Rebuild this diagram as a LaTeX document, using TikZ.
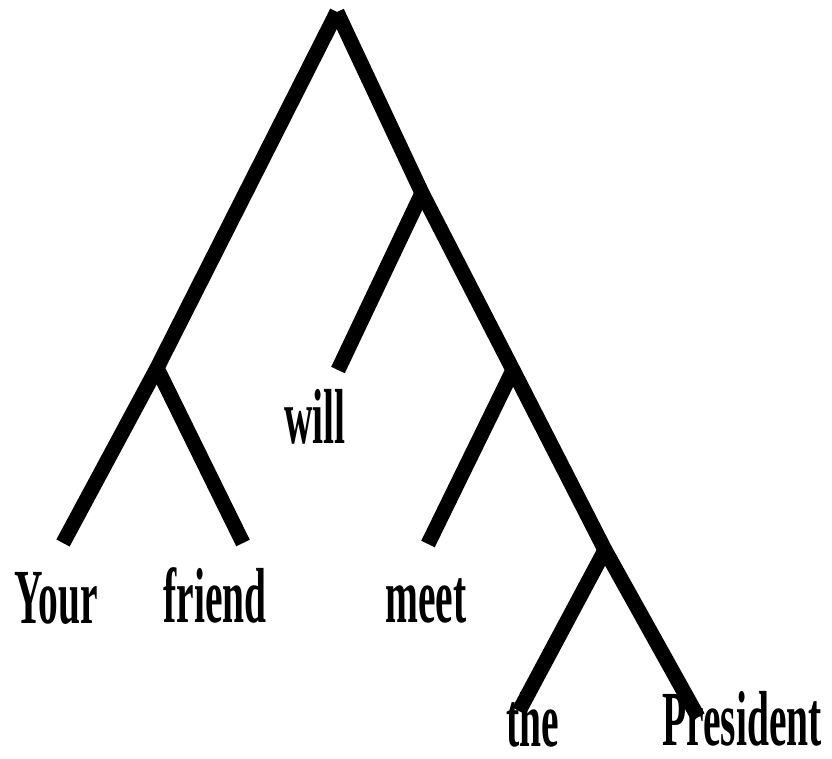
\documentclass[tikz,border=0pt]{standalone}
\usepackage{fontspec}
\setmainfont{Liberation Serif}
\usepackage{tikz}

\begin{document}
\begin{tikzpicture}[x=1pt, y=-1pt,
    branch/.style={line width=15pt, line join=miter},
    word/.style={inner sep=0pt, anchor=base, xscale=0.506, text depth=0pt,
      font=\fontsize{78}{80}\selectfont\bfseries}]
  \useasboundingbox (0,0) rectangle (832,759);
  % branching points
  \coordinate (S) at (337, 12);
  \coordinate (NP) at (157, 368);
  \coordinate (VP1) at (422, 193);
  \coordinate (VP2) at (513, 370);
  \coordinate (DP) at (605, 550);
  % leaf ends
  \coordinate (yourEnd) at (63, 543);
  \coordinate (friendEnd) at (243, 543);
  \coordinate (willEnd) at (338, 370);
  \coordinate (meetEnd) at (428, 544);
  \coordinate (theEnd) at (519, 711);
  \coordinate (presEnd) at (698, 717);
  % the words
  \node[word] (your) at (56, 623) {Your};
  \node[word] (friend) at (215, 622) {friend};
  \node[word] (will) at (315, 443) {will};
  \node[word] (meet) at (426, 622) {meet};
  \node[word] (the) at (533, 746) {the};
  \node[word] (pres) at (742, 745) {President};
  % left and right spines
  \draw[branch] (S) -- (NP) -- (yourEnd);
  \draw[branch] (S) -- (VP1) -- (VP2) -- (DP) -- (presEnd);
  % side branches
  \draw[branch] (NP) -- (friendEnd);
  \draw[branch] (VP1) -- (willEnd);
  \draw[branch] (VP2) -- (meetEnd);
  \draw[branch] (DP) -- (theEnd);
\end{tikzpicture}
\end{document}
